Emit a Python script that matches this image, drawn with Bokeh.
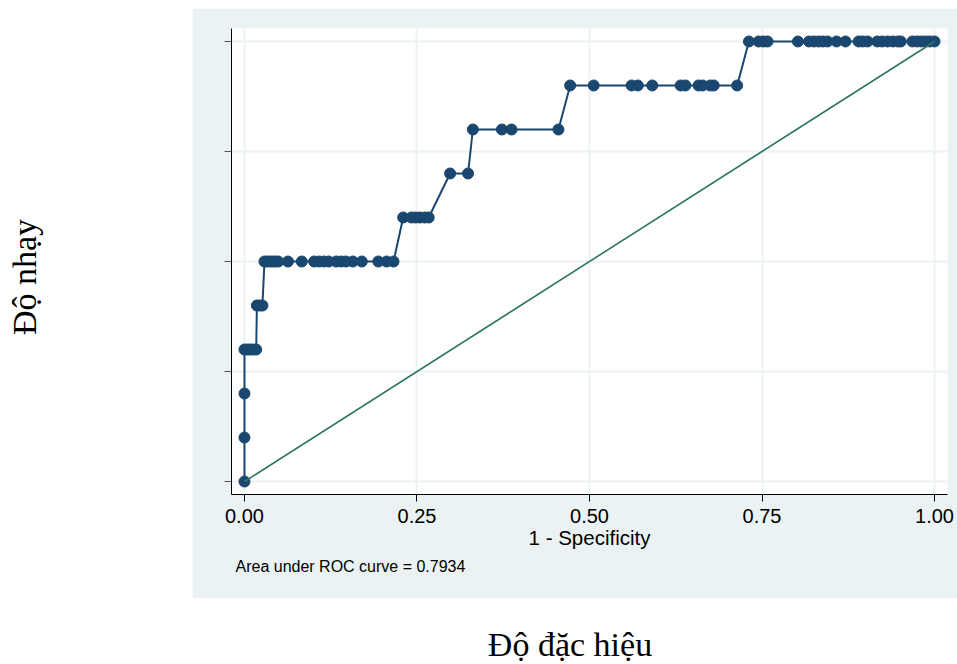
from bokeh.plotting import figure
from bokeh.models import Range1d, FixedTicker, Title, Div
from bokeh.layouts import row, column
from bokeh.embed import file_html
from bokeh.resources import INLINE

# ROC curve points: 1 - specificity (x) and sensitivity (y)
fpr = [0.0, 0.0, 0.0,
       0.0, 0.004, 0.008, 0.012, 0.017,
       0.018, 0.022, 0.026,
       0.029, 0.033, 0.037, 0.041, 0.045, 0.049, 0.063, 0.083, 0.101, 0.108,
       0.115, 0.122, 0.133, 0.140, 0.147, 0.157, 0.170, 0.194, 0.206, 0.216,
       0.230, 0.242, 0.248, 0.254, 0.261, 0.267,
       0.298, 0.324,
       0.331, 0.373, 0.387, 0.455,
       0.472, 0.506, 0.561, 0.570, 0.591, 0.632, 0.639, 0.658, 0.664, 0.675,
       0.680, 0.714,
       0.731, 0.745, 0.752, 0.758, 0.802, 0.818, 0.825, 0.832, 0.838, 0.845,
       0.858, 0.871, 0.890, 0.896, 0.903, 0.917, 0.924, 0.932, 0.940, 0.947,
       0.951, 0.968, 0.975, 0.981, 0.987, 0.993, 1.0]
tpr = ([0.0, 0.1, 0.2]
       + [0.3] * 5
       + [0.4] * 3
       + [0.5] * 20
       + [0.6] * 6
       + [0.7] * 2
       + [0.8] * 4
       + [0.9] * 12
       + [1.0] * 27)

# Reference (chance) line
ref_x = [0.0, 1.0]
ref_y = [0.0, 1.0]

ticks = [0.0, 0.25, 0.5, 0.75, 1.0]
x_tick_labels = ["0.00", "0.25", "0.50", "0.75", "1.00"]

auc_text = "Area under ROC curve = 0.7934"
x_title = "1 - Specificity"
outer_x_title = "Độ đặc hiệu"
outer_y_title = "Độ nhạy"

PANEL = "#eaf2f3"
NAVY = "#1a476f"
TEAL = "#2f7565"

p = figure(width=765, height=590, output_backend="svg", toolbar_location=None,
           x_range=Range1d(-0.0188, 1.0188), y_range=Range1d(-0.0295, 1.0295),
           min_border_left=39, min_border_right=10,
           min_border_top=20, min_border_bottom=104, margin=0)
p.border_fill_color = PANEL
p.background_fill_color = "white"
p.outline_line_color = None

# grid
for g in (p.xgrid, p.ygrid):
    g.ticker = FixedTicker(ticks=ticks)
    g.grid_line_color = PANEL
    g.grid_line_width = 2

# axes
p.xaxis.ticker = FixedTicker(ticks=ticks)
p.xaxis.major_label_overrides = {t: s for t, s in zip(ticks, x_tick_labels)}
p.yaxis.ticker = FixedTicker(ticks=ticks)
p.yaxis.major_label_overrides = {t: "" for t in ticks}
for ax in (p.xaxis, p.yaxis):
    ax.axis_line_color = "black"
    ax.axis_line_width = 1
    ax.major_tick_in = 0
    ax.major_tick_out = 7
    ax.minor_tick_line_color = None
    ax.major_label_text_font = "Liberation Sans"
    ax.major_label_text_color = "black"
p.xaxis.major_tick_line_color = "black"
p.yaxis.major_tick_line_color = "#555555"
p.xaxis.major_label_text_font_size = "20px"
p.xaxis.major_label_standoff = 7
p.xaxis.axis_label = x_title
p.xaxis.axis_label_text_font = "Liberation Sans"
p.xaxis.axis_label_text_font_size = "20.5px"
p.xaxis.axis_label_text_font_style = "normal"
p.xaxis.axis_label_text_color = "black"
p.xaxis.axis_label_standoff = 0

# note under the axis title
note = Title(text=auc_text, align="left", offset=4,
             text_font="Liberation Sans", text_font_size="16px",
             text_font_style="normal", text_color="black", standoff=8)
p.add_layout(note, "below")

# ROC curve
p.line(fpr, tpr, line_color=NAVY, line_width=2)
p.scatter(fpr, tpr, size=11, fill_color=NAVY, line_color=NAVY)

# chance line
p.line(ref_x, ref_y, line_color=TEAL, line_width=1.6)

# outer titles
left_div = Div(
    width=192, height=664, margin=0,
    text=("<div style=\"position:relative;width:192px;height:664px;\">"
          "<div style=\"position:absolute;left:25px;top:277px;"
          "transform:translate(-50%,-50%) rotate(-90deg);white-space:nowrap;"
          "font-family:'Liberation Serif';font-size:34px;line-height:40px;"
          "color:black;\">" + outer_y_title + "</div></div>"))
top_div = Div(width=765, height=8, margin=0, text="")
bottom_div = Div(
    width=765, height=66, margin=0,
    text=("<div style=\"position:relative;width:765px;height:66px;\">"
          "<div style=\"position:absolute;left:378px;top:27px;"
          "transform:translate(-50%,0);white-space:nowrap;"
          "font-family:'Liberation Serif';font-size:34px;line-height:40px;"
          "color:black;\">" + outer_x_title + "</div></div>"))

layout = row(left_div, column(top_div, p, bottom_div, spacing=0), spacing=0)

open("out.html", "w").write(file_html(layout, INLINE))
